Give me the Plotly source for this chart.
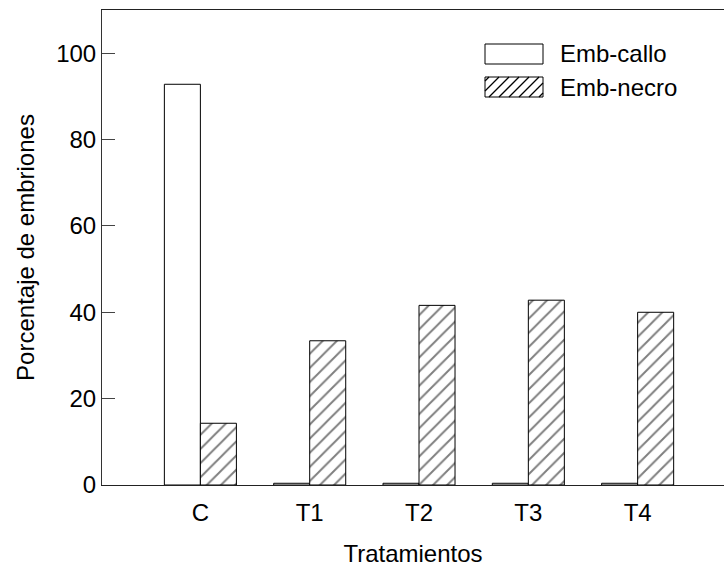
import plotly.graph_objects as go

categories = ["C", "T1", "T2", "T3", "T4"]
emb_callo = [92.8, 0.4, 0.4, 0.4, 0.4]
emb_necro = [14.3, 33.4, 41.6, 42.8, 40.0]
y_ticks = [0, 20, 40, 60, 80, 100]
series_names = ["Emb-callo", "Emb-necro"]

W, H = 724, 570
ML, MR, MT, MB = 102, 0, 10, 85
FONT = "Liberation Sans, Arial, sans-serif"

fig = go.Figure()
fig.add_trace(go.Bar(
    x=categories, y=emb_callo, name=series_names[0],
    marker=dict(color="white", line=dict(color="black", width=1)),
    showlegend=False,
))
fig.add_trace(go.Bar(
    x=categories, y=emb_necro, name=series_names[1],
    marker=dict(color="white", line=dict(color="black", width=1),
                pattern=dict(shape="/", fgcolor="black", bgcolor="white", size=10, solidity=0.2)),
    showlegend=False,
))

pw = W - ML - MR
ph = H - MT - MB

def px(x):
    return (x - ML) / pw

def py(y):
    return (H - MB - y) / ph

shapes = []
# legend swatches (decoration)
sx0, sx1 = 485, 543
for i, (y0, y1) in enumerate([(44, 64), (77, 97)]):
    shapes.append(dict(type="rect", xref="paper", yref="paper",
                       x0=px(sx0), x1=px(sx1), y0=py(y1), y1=py(y0),
                       line=dict(color="black", width=1), fillcolor="white"))
    if i == 1:
        step = 10
        h = y1 - y0
        path = ""
        start = sx0 - h + 4
        while start < sx1:
            xa, ya = start, y1
            xb, yb = start + h, y0
            if xa < sx0:
                ya = y1 - (sx0 - xa)
                xa = sx0
            if xb > sx1:
                yb = y0 + (xb - sx1)
                xb = sx1
            if xb > xa:
                path += f"M{px(xa)},{py(ya)} L{px(xb)},{py(yb)} "
            start += step
        shapes.append(dict(type="path", xref="paper", yref="paper", path=path,
                           line=dict(color="black", width=1.3)))

annotations = []
for name, yc in zip(series_names, [54, 87]):
    annotations.append(dict(text=name, xref="paper", yref="paper", x=px(558), y=py(yc),
                            xanchor="left", yanchor="middle", showarrow=False,
                            font=dict(family=FONT, size=24, color="black")))

fig.update_layout(
    width=W, height=H,
    margin=dict(l=ML, r=MR, t=MT, b=MB, pad=0),
    paper_bgcolor="white", plot_bgcolor="white",
    barmode="group", bargap=0.341, bargroupgap=0,
    font=dict(family=FONT, size=24, color="black"),
    shapes=shapes, annotations=annotations,
    xaxis=dict(range=[-0.9, 4.79], showline=True, linecolor="#222", linewidth=1, mirror=True,
               ticks="", showgrid=False, zeroline=False, ticklabelstandoff=6,
               title=dict(text="Tratamientos", standoff=20, font=dict(size=24)),
               tickfont=dict(size=24)),
    yaxis=dict(range=[0, 110], tickvals=y_ticks, showline=True, linecolor="#333", linewidth=1,
               ticks="inside", ticklen=13, tickcolor="#444", showgrid=False, zeroline=False,
               title=dict(text="Porcentaje de embriones", standoff=14, font=dict(size=24)),
               tickfont=dict(size=24)),
)

fig.write_html("out.html")
